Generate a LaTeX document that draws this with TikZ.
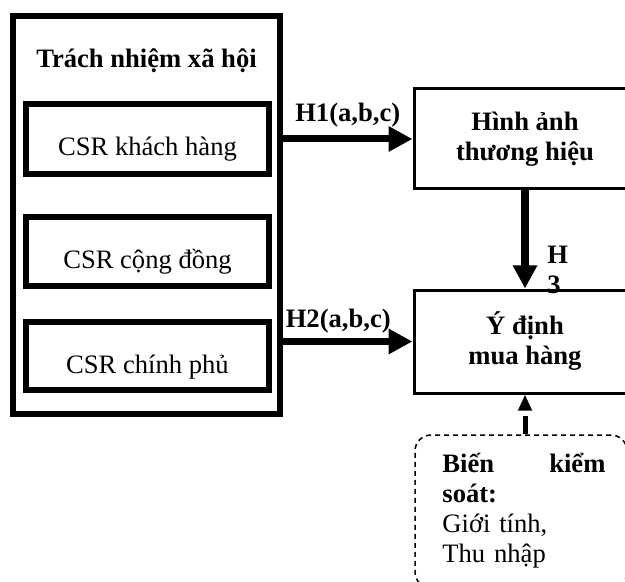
\documentclass[tikz,border=0pt]{standalone}
\usepackage{fontspec}
\setmainfont{Liberation Serif}
\usetikzlibrary{arrows.meta}

\newcommand\diagfont{\fontsize{13.3}{15}\selectfont}

\tikzset{
  outerbox/.style={draw, line width=3pt, minimum width=133.5pt, minimum height=199pt},
  csrbox/.style={draw, line width=3pt, minimum width=121.5pt, minimum height=35pt,
    text height=18pt, text depth=1pt},
  varbox/.style={draw, line width=1.5pt, minimum width=111pt, minimum height=50pt,
    align=center, font=\diagfont\bfseries},
  ctrlbox/.style={draw, dash pattern=on 2.5pt off 2pt, line width=0.75pt,
    rounded corners=8pt, minimum width=106pt, minimum height=76.5pt},
  hyparrow/.style={line width=3.5pt, -{Triangle[length=12pt,width=12pt]}},
  hyplabel/.style={font=\diagfont\bfseries, inner sep=0pt},
}

\begin{document}
\begin{tikzpicture}[x=0.5pt, y=-0.5pt, font=\diagfont]
\useasboundingbox (0,0) rectangle (625,582);
\clip (0,0) rectangle (625,582);
% left group
\node[outerbox] (csr) at (146.5,215) {};
\node[anchor=base, font=\diagfont\bfseries] (csrtitle) at (146.5,68) {Trách nhiệm xã hội};
\node[csrbox] (cust) at (147.5,139) {CSR khách hàng};
\node[csrbox, minimum height=34.5pt] (comm) at (147.5,251.5) {CSR cộng đồng};
\node[csrbox, minimum height=34pt] (gov) at (147.5,356) {CSR chính phủ};
% right group
\node[varbox, execute at begin node={\rule{0pt}{19.5pt}}] (image) at (525,139) {Hình ảnh\\thương hiệu};
\node[varbox, minimum height=51.5pt, execute at begin node={\rule{0pt}{16.5pt}}] (intent)
  at (525,341.5) {Ý định\\mua hàng};
\node[ctrlbox] (ctrl) at (521,511.5) {};
\node[anchor=north west, text width=81.5pt, align=left, inner sep=0pt] (ctrltext)
  at (442,453) {\textbf{Biến}\hfill\textbf{kiểm}\\ \textbf{soát:}\\ Giới tính,\\ Thu nhập};
% hypotheses
\draw[hyparrow] (csr.east |- image.west) -- node[hyplabel, above=4pt] (h1) {H1(a,b,c)} (image.west);
\draw[hyparrow] (csr.east |- intent.west) -- node[hyplabel, above=2.5pt, xshift=-4.75pt] (h2) {H2(a,b,c)} (intent.west);
\draw[line width=4.25pt, -{Triangle[length=11.5pt,width=11.5pt]}] (image) -- (intent);
\node[hyplabel, align=left, anchor=west] (h3) at (547,270) {H\\3};
\draw[line width=2.5pt, dash pattern=on 9pt off 3.5pt, -{Triangle[length=8pt,width=6.5pt]}]
  (intent.south |- ctrl.north) -- (intent.south);
\end{tikzpicture}
\end{document}
